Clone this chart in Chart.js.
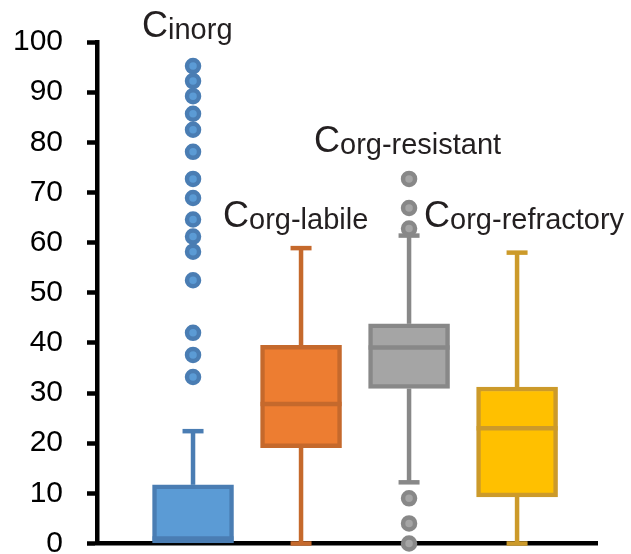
<!DOCTYPE html>
<html>
<head>
<meta charset="utf-8">
<script src="https://cdn.jsdelivr.net/npm/chart.js@4"></script>
<style>
  html, body { margin: 0; padding: 0; background: #fff; }
  #wrap { width: 631px; height: 554px; position: relative; }
</style>
</head>
<body>
<div id="wrap"><canvas id="boxes"></canvas></div>
<script>
// box plot data (percent)
const categories = ['Cinorg', 'Corg-labile', 'Corg-resistant', 'Corg-refractory'];
const subscripts = ['inorg', 'org-labile', 'org-resistant', 'org-refractory'];
const q1 = [0, 19.1, 30.9, 9.3];
const q3 = [11.7, 39.5, 43.8, 31.2];
const medians = [1.0, 27.8, 39.1, 23.0];
const whiskerLow = [0, 0, 12.2, 0];
const whiskerHigh = [22.4, 58.9, 61.4, 58.0];
const outliers = [
    [95.2, 92.2, 89.2, 85.7, 82.5, 78.1, 72.7, 68.9, 64.6, 61.2, 58.2, 52.5, 42.0, 37.6, 33.2],
    [],
    [72.7, 66.9, 62.8, 9.0, 4.0, 0],
    []
];
const yTicks = [0, 10, 20, 30, 40, 50, 60, 70, 80, 90, 100];

// colours
const fills = ['#5B9BD5', '#ED7D31', '#A5A5A5', '#FFC000'];
const edges = ['#4A7DB3', '#C5692C', '#888888', '#CC9A2A'];
const font = "'Liberation Sans', Arial, Helvetica, sans-serif";

// whiskers + caps (under the boxes), medians (over them)
const boxParts = {
    id: 'boxParts',
    beforeDatasetsDraw(chart) {
        const { ctx, scales: { x, y } } = chart;
        ctx.save();
        ctx.lineWidth = 4.5;
        categories.forEach((c, i) => {
            const cx = x.getPixelForValue(i + 1);
            ctx.strokeStyle = edges[i];
            const ends = [[q3[i], whiskerHigh[i]], [q1[i], whiskerLow[i]]];
            ends.forEach(([from, to]) => {
                if (from === to) return;
                ctx.beginPath();
                ctx.moveTo(cx, y.getPixelForValue(from));
                ctx.lineTo(cx, y.getPixelForValue(to));
                ctx.stroke();
                ctx.beginPath();
                ctx.moveTo(cx - 10.5, y.getPixelForValue(to));
                ctx.lineTo(cx + 10.5, y.getPixelForValue(to));
                ctx.stroke();
            });
        });
        ctx.restore();
    },
    afterDatasetsDraw(chart) {
        const { ctx, scales: { x, y } } = chart;
        ctx.save();
        ctx.lineWidth = 4.5;
        categories.forEach((c, i) => {
            const cx = x.getPixelForValue(i + 1);
            const my = y.getPixelForValue(medians[i]);
            ctx.strokeStyle = edges[i];
            ctx.beginPath();
            ctx.moveTo(cx - 40.5, my);
            ctx.lineTo(cx + 40.5, my);
            ctx.stroke();
        });
        // category names, big C with smaller tail
        const at = chart.options.plugins.boxParts.labelAt;
        ctx.fillStyle = '#231F20';
        ctx.textBaseline = 'alphabetic';
        ctx.textAlign = 'left';
        categories.forEach((c, i) => {
            const px = x.getPixelForValue(at[i][0]);
            const py = y.getPixelForValue(at[i][1]);
            ctx.font = '36px ' + font;
            ctx.fillText('C', px, py);
            const w = ctx.measureText('C').width;
            ctx.font = '29px ' + font;
            ctx.fillText(subscripts[i], px + w, py + 2);
        });
        ctx.restore();
    }
};

const datasets = [];
categories.forEach((c, i) => {
    datasets.push({
        type: 'scatter',
        data: outliers[i].map(v => ({ x: i + 1, y: v })),
        pointRadius: 6,
        pointBorderWidth: 4.5,
        backgroundColor: fills[i],
        borderColor: edges[i],
        clip: false,
        order: 0
    });
});
datasets.push({
    type: 'bar',
    data: categories.map((c, i) => ({ x: i + 1, y: [q1[i], q3[i]] })),
    backgroundColor: fills,
    borderColor: edges,
    borderWidth: 4.5,
    borderSkipped: false,
    barThickness: 81,
    order: 1
});

var myCanvas = document.getElementById('boxes').getContext('2d');
var boxChart = new Chart(myCanvas, {
    type: 'bar',
    data: { datasets: datasets },
    plugins: [boxParts],
    options: {
        responsive: true,
        maintainAspectRatio: false,
        animation: false,
        layout: { padding: { top: 42, right: 34, bottom: 0, left: 0 } },
        plugins: {
            legend: { display: false },
            tooltip: { enabled: false },
            boxParts: {
                labelAt: [[0.528, 101], [1.278, 63.2], [2.12, 78.0], [3.139, 63.2]]
            }
        },
        scales: {
            x: {
                type: 'linear',
                min: 0.111,
                max: 4.74,
                offset: false,
                grid: { display: false, offset: false },
                ticks: { display: false },
                border: { display: true, color: '#000', width: 4.5 },
                afterFit(scale) {
                    scale.height = 7;
                    scale.paddingLeft = 0;
                    scale.paddingRight = 0;
                }
            },
            y: {
                min: 0,
                max: 100,
                afterBuildTicks(scale) {
                    scale.ticks = yTicks.map(v => ({ value: v }));
                },
                grid: {
                    drawOnChartArea: false,
                    drawTicks: true,
                    tickLength: 10,
                    tickWidth: 4.5,
                    tickColor: '#000'
                },
                border: { display: true, color: '#000', width: 4.5 },
                ticks: {
                    color: '#000',
                    padding: 24,
                    font: { family: font, size: 30 }
                },
                afterFit(scale) {
                    scale.width = 97;
                    scale.paddingTop = 0;
                    scale.paddingBottom = 0;
                }
            }
        }
    }
});
</script>
</body>
</html>
